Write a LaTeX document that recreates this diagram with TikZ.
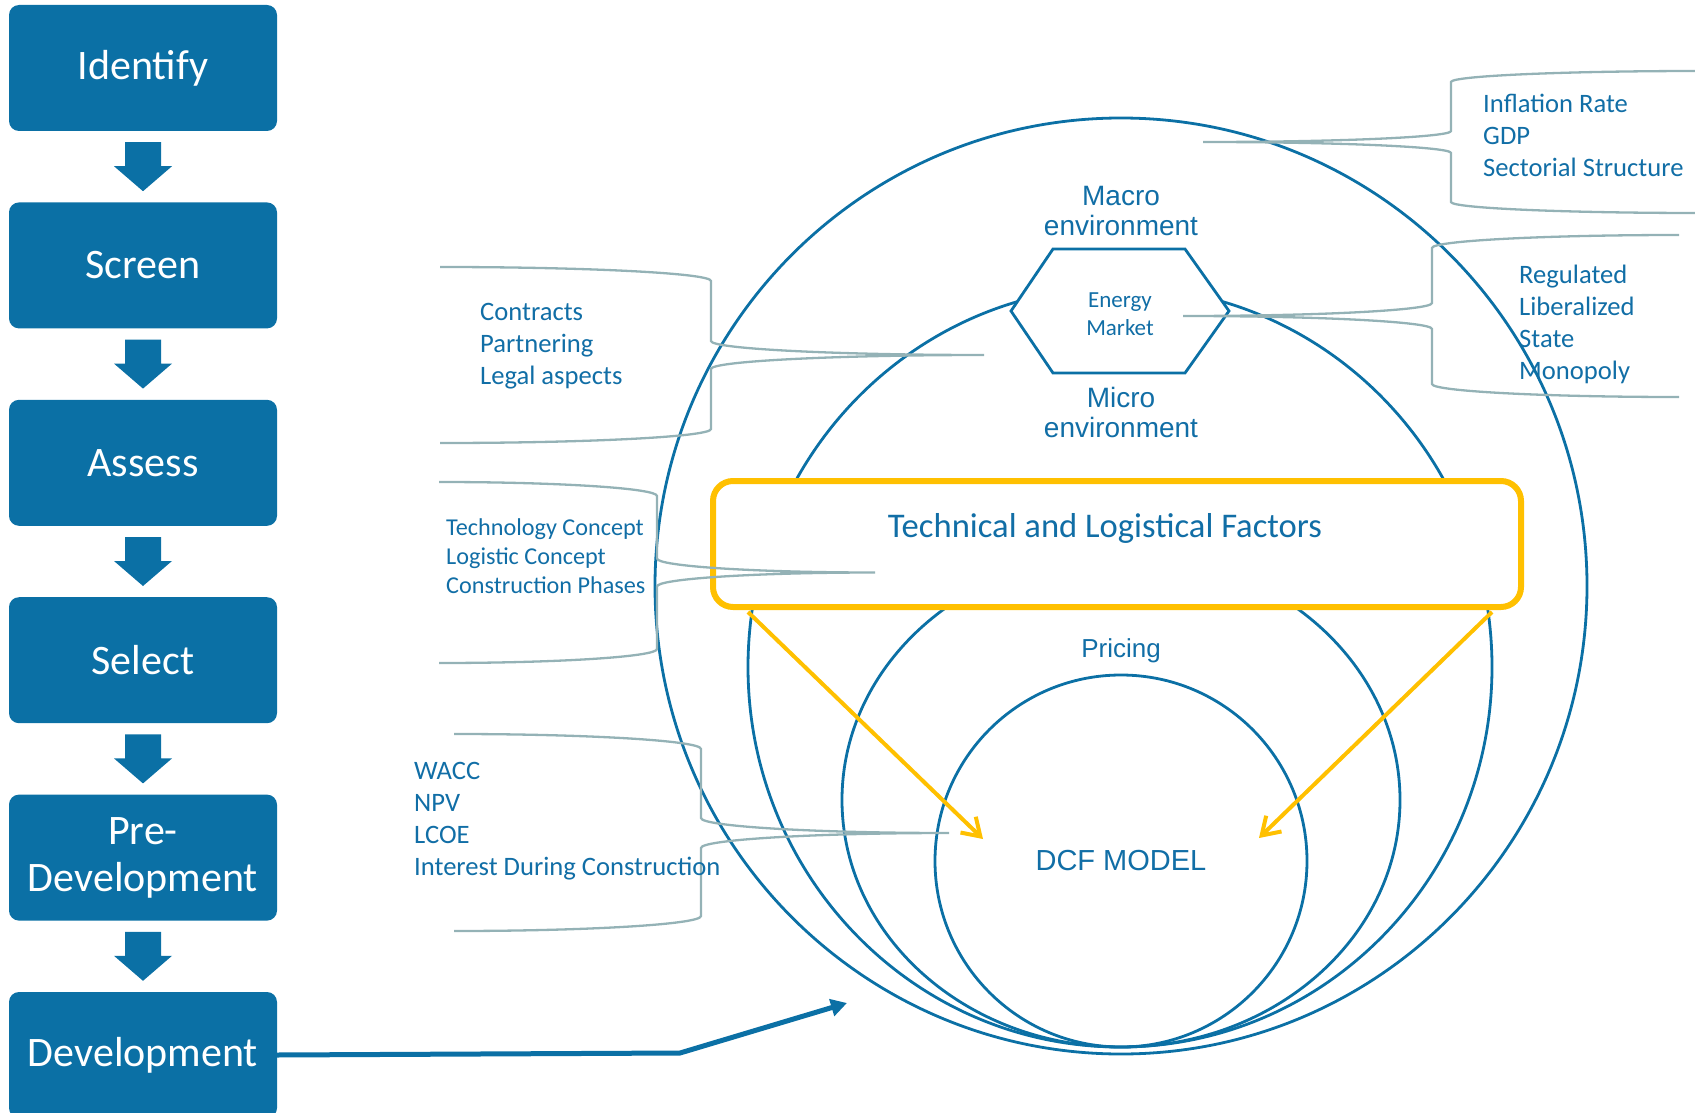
\documentclass[tikz,border=0pt]{standalone}
\usepackage{fontspec}
\setmainfont{Carlito}
\newfontfamily\arialfont{Liberation Sans}
\usetikzlibrary{positioning,chains,calc,arrows.meta}

\definecolor{stageblue}{RGB}{11,112,165}
\definecolor{textblue}{RGB}{17,110,166}
\definecolor{bracegray}{RGB}{148,178,182}
\definecolor{factoryellow}{RGB}{255,192,0}

% arm x, corner x, tip x, top y, tip y, bottom y, bend
\newcommand{\sidebrace}[7]{%
  \draw[braceline] (#1,#4) .. controls ({#1+.55*(#2-#1)},#4) and (#2,{#4+.45*#7}) .. (#2,{#4+#7})
    -- (#2,{#5-#7}) .. controls (#2,{#5-.45*#7}) and ({#3-.55*(#3-#2)},#5) .. (#3,#5)
    .. controls ({#3-.55*(#3-#2)},#5) and (#2,{#5+.45*#7}) .. (#2,{#5+#7})
    -- (#2,{#6-#7}) .. controls (#2,{#6-.45*#7}) and ({#1+.55*(#2-#1)},#6) .. (#1,#6);}

\begin{document}
\begin{tikzpicture}[x=1pt,y=-1pt,
    stagebox/.style={rounded corners=10pt,fill=stageblue,text=white,minimum width=268pt,minimum height=126pt,inner sep=0pt,align=center,font=\fontsize{42}{47}\selectfont},
    ring/.style={draw=stageblue,line width=2.8pt},
    braceline/.style={draw=bracegray,line width=2.3pt},
    listtext/.style={text=textblue,align=left,anchor=base west,inner sep=0pt,font=\fontsize{26.6}{32}\selectfont},
    envtext/.style={text=textblue,align=center,anchor=base,inner sep=0pt,font=\arialfont\fontsize{28}{29.5}\selectfont},
    factarrow/.style={draw=factoryellow,line width=4pt,-{Straight Barb[length=17pt,width=22pt]}},
    devarrow/.style={draw=stageblue,line width=5pt,-{Triangle[length=16pt,width=17pt]}}
    ]
    \useasboundingbox (0,0) rectangle (1695,1113);
    \clip (0,0) rectangle (1695,1113);

    % project stages
    \begin{scope}[start chain=going below,node distance=71pt,nodes={stagebox,on chain}]
        \node (identify) at (143,68) {Identify};
        \node (screen) {Screen};
        \node (assess) {Assess};
        \node (select) {Select};
        \node (predev) {Pre-\\Development};
        \node (dev) {Development};
    \end{scope}
    \foreach \a/\b in {identify/screen,screen/assess,assess/select,select/predev,predev/dev}
    {\fill[stageblue] ($(\a.south)!.5!(\b.north)$) ++(-18,-24.5) -- ++(36,0) -- ++(0,24) -- ++(11,0) -- ++(-29,25) -- ++(-29,-25) -- ++(11,0) -- cycle;}

    \coordinate (bend) at (680,1053);
    \coordinate (devtip) at (847,1003);
    \draw[devarrow] (dev.east) -- (bend) -- (devtip);

    % environments
    \draw[ring] (1121,586) ellipse[x radius=466,y radius=468];
    \draw[ring] (1120,667) ellipse[x radius=372,y radius=380];
    \draw[ring] (1121,800) ellipse[x radius=279,y radius=247];
    \node[ring,circle,minimum size=372pt,inner sep=0pt,text=textblue,font=\arialfont\fontsize{29}{34}\selectfont] (dcf) at (1121,861) {DCF MODEL};

    \node[draw=factoryellow,line width=6pt,fill=white,rounded corners=20pt,minimum width=808pt,minimum height=126pt] (tlf) at (1117,544) {};
    \node[envtext,font=\fontsize{34.6}{40}\selectfont] (tlftext) at (1105,537) {Technical and Logistical Factors};

    \draw[ring,fill=white,line join=miter] (1011,311) -- (1053,249) -- (1185,249) -- (1229,311) -- (1185,373) -- (1053,373) -- cycle;
    \node[envtext,font=\fontsize{23}{28}\selectfont] (energy) at (1120,335) {Energy\\Market};
    \node[envtext] (macro) at (1121,235) {Macro\\environment};
    \node[envtext] (micro) at (1121,437) {Micro\\environment};
    \node[envtext,font=\arialfont\fontsize{26}{30}\selectfont] (pricing) at (1121,657) {Pricing};

    \coordinate (lhit) at (983,839);
    \coordinate (rhit) at (1259,838);
    \draw[factarrow] ($(tlf.south west)+(38,2)$) -- (lhit);
    \draw[factarrow] ($(tlf.south east)+(-32,2)$) -- (rhit);

    % braces and lists
    \sidebrace{440}{711}{984}{267}{355}{443}{14}
    \sidebrace{439}{657}{875}{482}{572.5}{663}{14}
    \sidebrace{454}{701}{949}{734}{833}{931}{15}
    \sidebrace{1700}{1451}{1203}{71}{142}{213}{11}
    \sidebrace{1679}{1432}{1183}{235}{316}{397}{13}

    \node[listtext] (contracts) at (480,384) {Contracts\\Partnering\\Legal aspects};
    \node[listtext,font=\fontsize{24.2}{29}\selectfont] (concepts) at (446,593) {Technology Concept\\Logistic Concept\\Construction Phases};
    \node[listtext] (finance) at (414,875) {WACC\\NPV\\LCOE\\Interest During Construction};
    \node[listtext] (macrolist) at (1483,176) {Inflation Rate\\GDP\\Sectorial Structure};
    \node[listtext] (marketlist) at (1519,379) {Regulated\\Liberalized\\State\\Monopoly};
\end{tikzpicture}
\end{document}
